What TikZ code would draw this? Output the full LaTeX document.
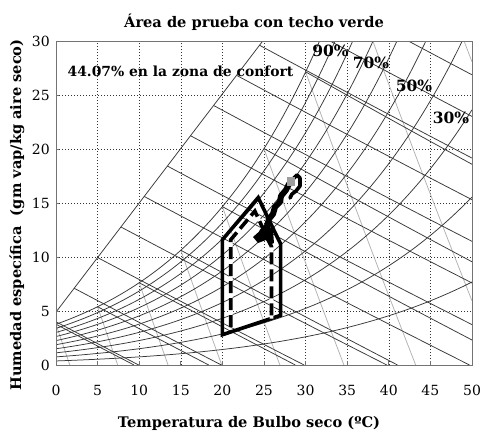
\documentclass[tikz,border=0pt]{standalone}
\usepackage{fontspec}
\setmainfont{DejaVu Serif}
\begin{document}
\begin{tikzpicture}[x=1pt,y=-1pt,
  gridline/.style={black!80,line width=0.6pt,dash pattern=on 1.4pt off 1.6pt},
  frameline/.style={black!55,line width=0.9pt},
  chartline/.style={black!78,line width=0.75pt},
  volline/.style={black!30,line width=0.75pt},
  zonesolid/.style={black,line width=3.6pt,line join=miter},
  zonedash/.style={black,line width=3.6pt,dash pattern=on 12pt off 5pt},
  zonewhite/.style={white,line width=3.6pt},
  trace/.style={black,line width=3.6pt,line join=round,line cap=round},
  ticklabel/.style={font=\fontsize{14}{16}\selectfont,inner sep=0pt},
  boldlabel/.style={font=\bfseries\fontsize{14.6}{17}\selectfont,inner sep=0pt},
  conflabel/.style={font=\bfseries\fontsize{13.9}{16}\selectfont,inner sep=0pt},
  pctlabel/.style={font=\bfseries\fontsize{15.5}{18}\selectfont,inner sep=0pt}]
\useasboundingbox[fill=white] (0,0) rectangle (482,431);

% ---------- chart in data coordinates ----------
\begin{scope}[shift={(56,365)},x=8.32pt,y=10.8pt]
  \foreach \i in {5,10,...,45} \draw[gridline] (\i,0) -- (\i,30);
  \foreach \j in {5,10,...,25} \draw[gridline] (0,\j) -- (50,\j);
  \begin{scope}
    \clip (0,0) rectangle (50,30);
    % specific volume lines (light gray)
    \foreach \ts/\K/\te in {0/274.807/1.657,5/280.564/7.41,10/286.618/13.47,15/293.073/19.92,20/300.061/26.91,25/307.754/34.60,30/316.380/43.23,35/326.237/50,40/337.734/50}
      \draw[volline] plot[domain=\ts:\te,samples=8,variable=\t] ({\t},{1000*(\K/(\t+273.15)-1)/1.607858});
    % relative humidity curves
    \foreach \p in {0.1,0.2,0.3,0.4,0.5,0.6,0.7,0.8,0.9,1.0}
      \draw[chartline] plot[domain=0:50,samples=90,smooth,variable=\t]
        ({\t},{622*\p*0.61094*exp(17.625*\t/(\t+243.04))/(101.325-\p*0.61094*exp(17.625*\t/(\t+243.04)))});
    % enthalpy lines
    \foreach \h/\s/\e in {10/0/9.94,20/2.185/19.88,30/4.998/29.82,40/7.803/39.76,50/10.600/49.70,60/13.388/50,70/16.169/50,80/18.942/50,90/21.705/50,100/24.462/50,110/32.93/50,120/42.35/50}
      \draw[chartline] plot[domain=\s:\e,samples=10,variable=\t] ({\t},{(\h-1.006*\t)/(2.501+0.00186*\t)});
    % wet bulb lines
    \foreach \tw/\ws/\e in {0/3.773/9.38,5/5.397/18.36,10/7.618/28.76,15/10.626/41.05,20/14.663/50,25/20.035/50,30/27.144/50}
      \draw[chartline] plot[domain=\tw:\e,samples=10,variable=\t] ({\t},{((2.501-0.002326*\tw)*\ws-1.006*(\t-\tw))/(2.501+0.00186*\t-0.004186*\tw)});
    % boundary line
    \draw[chartline] (0,4.9) -- (24.85,30);
  \end{scope}
  % frame
  \draw[frameline] (0,0) rectangle (50,30);
  \foreach \i in {5,10,...,45} \draw[frameline] (\i,0) -- (\i,0.35);
  \foreach \j in {5,10,...,25} \draw[frameline] (0,\j) -- (0.42,\j);
  % comfort zones
  \draw[zonesolid] (20,2.8) -- (20,11.6) -- (24.3,15.5) -- (27,11.2) -- (27,4.6) -- cycle;
  \draw[zonewhite] (21,3.5) -- (21,11.6) -- (23.9,14.25) -- (25.9,10.95) -- (25.9,4.3);
  \draw[zonedash] (21,3.5) -- (21,11.6) -- (23.9,14.25) -- (25.9,10.95) -- (25.9,4.3);
\end{scope}

% ---------- measured trace (pixel coordinates) ----------
\fill[black] (253,237) -- (262,229) -- (268,224) -- (273,231) -- (274,243) -- (269,245) -- (266,240) -- (258,243) -- cycle;
\draw[black,line width=6pt,line join=round,line cap=round] (262,232) -- (267,226) -- (269,219) -- (273,214) -- (275,207) -- (280,202) -- (281,196) -- (286,190) -- (289,184);
\draw[trace] (288,184) -- (292,180) -- (297,175) -- (300,178) -- (300,186) -- (296,191) -- (292,194) -- (290,198);
\fill[black!38] (286.7,177) rectangle (295,185.5);

% ---------- texts ----------
\node[boldlabel] (title) at (254,22) {Área de prueba con techo verde};
\node[conflabel] (conf) at (180.5,71.5) {44.07\% en la zona de confort};
\node[pctlabel] (p90) at (330.5,51) {90\%};
\node[pctlabel] (p70) at (371,62.7) {70\%};
\node[pctlabel] (p50) at (414,86) {50\%};
\node[pctlabel] (p30) at (451,117.7) {30\%};
\foreach \v [count=\k from 0] in {0,5,10,15,20,25,30,35,40,45,50}
  \node[ticklabel] (xt\k) at ({56+41.6*\k},390) {\v};
\foreach \v [count=\k from 0] in {0,5,10,15,20,25,30}
  \node[ticklabel,anchor=east] (yt\k) at (50,{365-54*\k}) {\v};
\node[boldlabel] (xlab) at (249,423) {Temperatura de Bulbo seco (ºC)};
\node[boldlabel,rotate=90] (ylab) at (17,215) {Humedad específica\ \ (gm vap/kg aire seco)};
\end{tikzpicture}
\end{document}
